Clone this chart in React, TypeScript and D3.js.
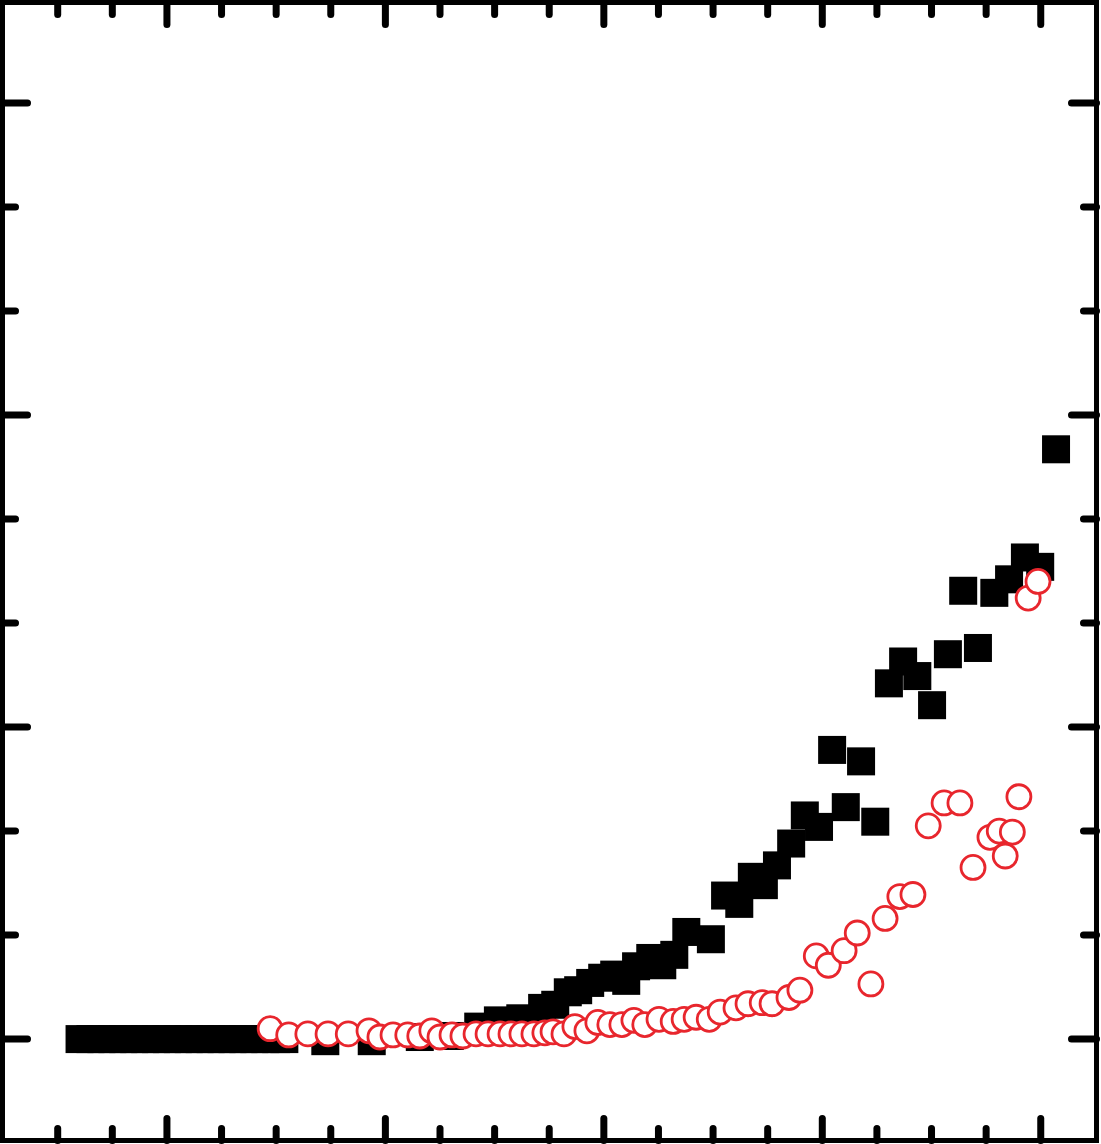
import React from "react";
import * as d3 from "d3";

const blackX = [-1.6,-1.4,-1.2,-1.0,-0.8,-0.6,-0.4,-0.2,0,0.2,0.4,0.6,0.8,1.0,1.2,1.4,1.6,1.8,2.0,2.15,2.9,3.75,4.63,5.18,
5.70,6.06,6.47,6.87,7.11,7.34,7.53,7.75,7.97,8.19,8.41,8.59,8.85,9.07,9.29,9.51,9.96,10.22,10.48,10.71,10.93,11.17,11.43,11.68,11.94,12.18,12.43,12.71,12.97,13.22,13.48,13.74,14.01,14.30,14.58,14.85,15.15,15.42,15.71,15.99,16.28];
const blackY = [0,0,0,0,0,0,0,0,0,0,0,0,0,0,0,0,0,0,0,0,-0.02,-0.02,0.02,0.03,
0.12,0.18,0.20,0.30,0.33,0.45,0.47,0.54,0.59,0.62,0.56,0.70,0.78,0.71,0.81,1.03,0.96,1.38,1.30,1.56,1.48,1.67,1.88,2.15,2.04,2.78,2.23,2.67,2.09,3.42,3.63,3.49,3.21,3.70,4.31,3.76,4.29,4.42,4.63,4.54,5.67];
const redX = [1.89,2.23,2.58,2.95,3.32,3.70,3.90,4.14,4.41,4.63,4.85,5.00,5.22,5.42,5.66,5.88,6.10,6.30,6.50,6.72,6.92,7.07,7.27,7.47,7.69,7.89,8.11,8.33,8.55,8.75,9.01,9.27,9.47,9.69,9.93,10.13,10.42,10.64,10.90,11.08,11.39,11.59,11.89,12.11,12.40,12.64,12.89,13.15,13.42,13.66,13.94,14.23,14.52,14.76,15.07,15.24,15.35,15.48,15.60,15.77,15.95];
const redY = [0.10,0.04,0.05,0.05,0.05,0.08,0.02,0.04,0.04,0.03,0.08,0.02,0.04,0.03,0.05,0.05,0.05,0.05,0.05,0.05,0.06,0.07,0.05,0.12,0.08,0.16,0.14,0.14,0.18,0.14,0.19,0.17,0.19,0.21,0.19,0.26,0.30,0.34,0.35,0.34,0.40,0.47,0.80,0.71,0.85,1.02,0.53,1.16,1.37,1.39,2.05,2.27,2.27,1.65,1.94,2.00,1.76,1.99,2.33,4.24,4.40];
const xTicks = d3.range(-2, 17);
const yTicks = d3.range(0, 10);

export default function App() {
  const W = 1101, H = 1144;
  const x = d3.scaleLinear().domain([-3.02, 17.03]).range([2, 1097]);
  const y = d3.scaleLinear().domain([-0.97, 9.97]).range([1140, 2]);
  const L = 2.5, R = 1096.5, T = 2.5, B = 1140.5;
  const sq = 28;
  return (
    <svg width={W} height={H} style={{ position: "absolute", left: 0, top: 0 }}>
      <rect x={0} y={0} width={W} height={H} fill="white" />
      {xTicks.map((t) => {
        const len = t % 4 === 0 ? 22 : 12;
        return (
          <g key={"x" + t} stroke="black" strokeWidth={7} strokeLinecap="round">
            <line x1={x(t)} x2={x(t)} y1={B} y2={B - len} />
            <line x1={x(t)} x2={x(t)} y1={T} y2={T + len} />
          </g>
        );
      })}
      {yTicks.map((t) => {
        const len = t % 3 === 0 ? 25 : 13;
        return (
          <g key={"y" + t} stroke="black" strokeWidth={7} strokeLinecap="round">
            <line x1={L} x2={L + len} y1={y(t)} y2={y(t)} />
            <line x1={R} x2={R - len} y1={y(t)} y2={y(t)} />
          </g>
        );
      })}
      {blackX.map((v, i) => (
        <rect key={"b" + i} x={x(v) - sq / 2} y={y(blackY[i]) - sq / 2} width={sq} height={sq} fill="black" />
      ))}
      {redX.map((v, i) => (
        <circle key={"r" + i} cx={x(v)} cy={y(redY[i])} r={12} fill="white" stroke="#e8262d" strokeWidth={2.8} />
      ))}
      <rect x={L} y={T} width={R - L} height={B - T} fill="none" stroke="black" strokeWidth={5} />
    </svg>
  );
}
